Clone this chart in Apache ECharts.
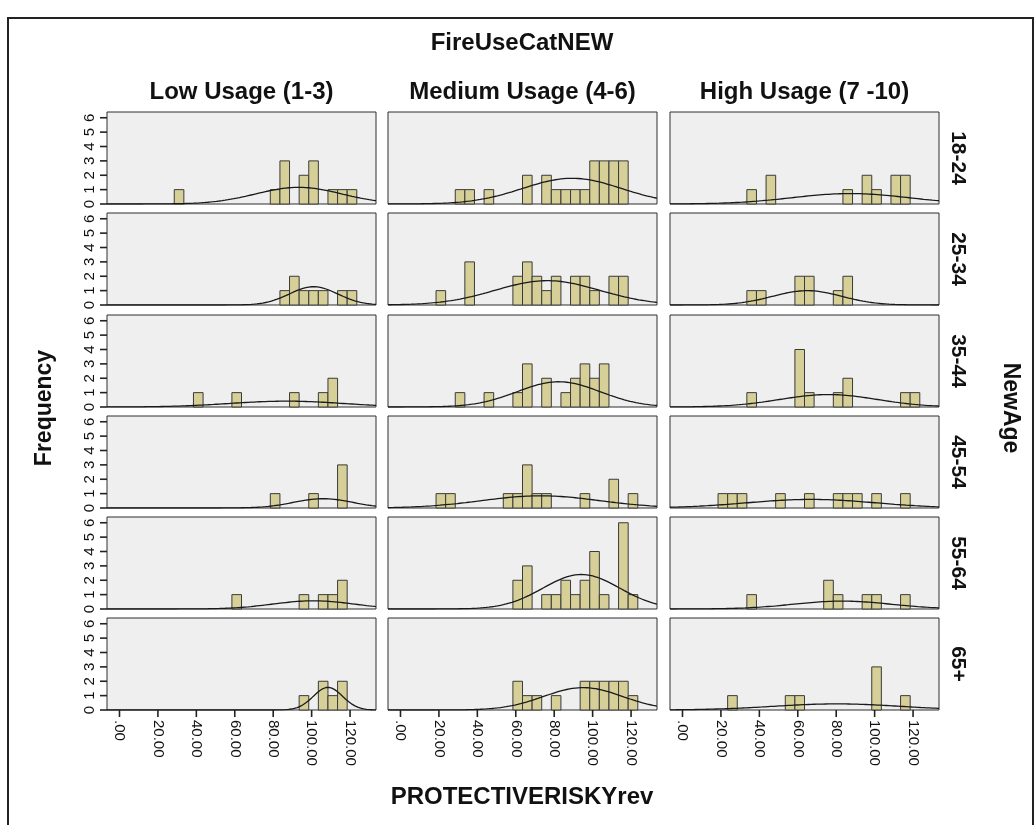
<!DOCTYPE html>
<html>
<head>
<meta charset="utf-8">
<script src="https://cdn.jsdelivr.net/npm/echarts@6/dist/echarts.min.js"></script>
<style>
  html, body { margin: 0; padding: 0; background: #ffffff; }
  #chart { width: 1035px; height: 825px; }
</style>
</head>
<body>
<div id="chart"></div>
<script>
// Panel headers and tick labels
const mainTitle = 'FireUseCatNEW';
const xTitle = 'PROTECTIVERISKYrev';
const yTitle = 'Frequency';
const rowTitle = 'NewAge';
const colHeaders = ['Low Usage (1-3)', 'Medium Usage (4-6)', 'High Usage (7 -10)'];
const rowLabels = ['18-24', '25-34', '35-44', '45-54', '55-64', '65+'];
const xTicks = [0, 20, 40, 60, 80, 100, 120];
const yTicks = [0, 1, 2, 3, 4, 5, 6];
const binWidth = 5;

// Histogram bins per panel: [bin centre, frequency]
const low18_24  = [[31,1],[81,1],[86,3],[96,2],[101,3],[111,1],[116,1],[121,1]];
const med18_24  = [[31,1],[36,1],[46,1],[66,2],[76,2],[81,1],[86,1],[91,1],[96,1],[101,3],[106,3],[111,3],[116,3]];
const high18_24 = [[36,1],[46,2],[86,1],[96,2],[101,1],[111,2],[116,2]];

const low25_34  = [[86,1],[91,2],[96,1],[101,1],[106,1],[116,1],[121,1]];
const med25_34  = [[21,1],[36,3],[61,2],[66,3],[71,2],[76,1],[81,2],[91,2],[96,2],[101,1],[111,2],[116,2]];
const high25_34 = [[36,1],[41,1],[61,2],[66,2],[81,1],[86,2]];

const low35_44  = [[41,1],[61,1],[91,1],[106,1],[111,2]];
const med35_44  = [[31,1],[46,1],[61,1],[66,3],[76,2],[86,1],[91,2],[96,3],[101,2],[106,3]];
const high35_44 = [[36,1],[61,4],[66,1],[81,1],[86,2],[116,1],[121,1]];

const low45_54  = [[81,1],[101,1],[116,3]];
const med45_54  = [[21,1],[26,1],[56,1],[61,1],[66,3],[71,1],[76,1],[96,1],[111,2],[121,1]];
const high45_54 = [[21,1],[26,1],[31,1],[51,1],[66,1],[81,1],[86,1],[91,1],[101,1],[116,1]];

const low55_64  = [[61,1],[96,1],[106,1],[111,1],[116,2]];
const med55_64  = [[61,2],[66,3],[76,1],[81,1],[86,2],[91,1],[96,2],[101,4],[106,1],[116,6],[121,1]];
const high55_64 = [[36,1],[76,2],[81,1],[96,1],[101,1],[116,1]];

const low65     = [[96,1],[106,2],[111,1],[116,2]];
const med65     = [[61,2],[66,1],[71,1],[81,1],[96,2],[101,2],[106,2],[111,2],[116,2],[121,1]];
const high65    = [[26,1],[56,1],[61,1],[101,3],[116,1]];

const panelRows = [
  [low18_24, med18_24, high18_24],
  [low25_34, med25_34, high25_34],
  [low35_44, med35_44, high35_44],
  [low45_54, med45_54, high45_54],
  [low55_64, med55_64, high55_64],
  [low65, med65, high65]
];

// Layout
const colLeft = [107, 388, 670];
const panelW = 269;
const rowTop = [112, 213, 315, 416, 517, 618];
const panelH = 92;
const X_MIN = -6.5, X_MAX = 133.5, Y_MAX = 6.4;
const TICK_LEN = 7;
const FONT = '"Liberation Sans", Arial, sans-serif';
const BAR_FILL = '#d6cf98';
const EDGE = '#2e2e2e';

// Normal curve fitted to a panel's binned data, scaled to frequency
function normalCurve(bins) {
  let n = 0, s = 0;
  bins.forEach(([v, c]) => { n += c; s += v * c; });
  const mean = s / n;
  let ss = 0;
  bins.forEach(([v, c]) => { ss += c * (v - mean) * (v - mean); });
  const sd = Math.sqrt(ss / (n - 1));
  const k = n * binWidth / (sd * Math.sqrt(2 * Math.PI));
  const pts = [];
  for (let x = X_MIN; x <= X_MAX + 1e-9; x += 0.5) {
    const z = (x - mean) / sd;
    pts.push([x, k * Math.exp(-0.5 * z * z)]);
  }
  return pts;
}

const grids = [], xAxes = [], yAxes = [], series = [];
panelRows.forEach((row, r) => {
  row.forEach((bins, c) => {
    const idx = grids.length;
    const bottomRow = r === panelRows.length - 1;
    const firstCol = c === 0;
    grids.push({
      left: colLeft[c], top: rowTop[r], width: panelW, height: panelH,
      show: true, backgroundColor: '#efefef', borderColor: EDGE, borderWidth: 1
    });
    xAxes.push({
      gridIndex: idx, type: 'value', min: X_MIN, max: X_MAX, position: 'bottom',
      splitLine: { show: false },
      axisLine: { show: false, onZero: false },
      axisTick: { show: false },
      axisLabel: {
        show: bottomRow, customValues: xTicks, rotate: -90, margin: 10,
        fontFamily: FONT, fontSize: 15, color: '#111',
        formatter: v => (v === 0 ? '.00' : v.toFixed(2))
      }
    });
    yAxes.push({
      gridIndex: idx, type: 'value', min: 0, max: Y_MAX, position: 'left',
      splitLine: { show: false },
      axisLine: { show: false, onZero: false },
      axisTick: { show: false },
      axisLabel: {
        show: firstCol, customValues: yTicks, rotate: 90, margin: 10,
        fontFamily: FONT, fontSize: 15, color: '#111'
      }
    });
    series.push({
      type: 'custom', xAxisIndex: idx, yAxisIndex: idx, data: bins, z: 2,
      encode: { x: 0, y: 1 },
      renderItem: (params, api) => {
        const v = api.value(0), h = api.value(1);
        const p0 = api.coord([v - binWidth / 2, h]);
        const p1 = api.coord([v + binWidth / 2, 0]);
        return {
          type: 'rect',
          shape: { x: p0[0], y: p0[1], width: p1[0] - p0[0], height: p1[1] - p0[1] },
          style: { fill: BAR_FILL, stroke: '#3a3a3a', lineWidth: 1 }
        };
      }
    });
    series.push({
      type: 'line', xAxisIndex: idx, yAxisIndex: idx, data: normalCurve(bins),
      showSymbol: false, silent: true, z: 3,
      lineStyle: { color: '#1a1a1a', width: 1.3 }
    });
  });
});

const bold = size => ({ fontFamily: FONT, fontWeight: 'bold', fontSize: size, fill: '#111', textAlign: 'center', textVerticalAlign: 'middle' });
const graphics = [
  { type: 'rect', shape: { x: 8, y: 18, width: 1025, height: 840 }, style: { fill: null, stroke: '#222', lineWidth: 2 }, silent: true },
  { type: 'text', x: 522, y: 43, style: Object.assign({ text: mainTitle }, bold(24)) },
  { type: 'text', x: 522, y: 797, style: Object.assign({ text: xTitle }, bold(24)) },
  { type: 'text', x: 45, y: 408, rotation: Math.PI / 2, style: Object.assign({ text: yTitle }, bold(23)) },
  { type: 'text', x: 1010, y: 408, rotation: -Math.PI / 2, style: Object.assign({ text: rowTitle }, bold(23)) }
];
colHeaders.forEach((t, c) => {
  graphics.push({ type: 'text', x: colLeft[c] + panelW / 2, y: 92, style: Object.assign({ text: t }, bold(24)) });
});
rowLabels.forEach((t, r) => {
  graphics.push({ type: 'text', x: 958, y: rowTop[r] + panelH / 2, rotation: -Math.PI / 2, style: Object.assign({ text: t }, bold(21)) });
});

const chart = echarts.init(document.getElementById('chart'), null, { renderer: 'canvas' });
chart.setOption({
  animation: false,
  backgroundColor: '#ffffff',
  grid: grids, xAxis: xAxes, yAxis: yAxes, series: series,
  graphic: graphics
});

// Outward tick marks, placed through each panel's own axis scales
const tickStyle = { stroke: '#222', lineWidth: 1.6 };
panelRows.forEach((row, r) => {
  const gi = r * 3;
  yTicks.forEach(t => {
    const p = chart.convertToPixel({ gridIndex: gi }, [X_MIN, t]);
    graphics.push({ type: 'line', silent: true, z: 50, shape: { x1: p[0] - TICK_LEN, y1: p[1], x2: p[0], y2: p[1] }, style: tickStyle });
  });
});
[0, 1, 2].forEach(c => {
  const gi = (panelRows.length - 1) * 3 + c;
  xTicks.forEach(t => {
    const p = chart.convertToPixel({ gridIndex: gi }, [t, 0]);
    graphics.push({ type: 'line', silent: true, z: 50, shape: { x1: p[0], y1: p[1], x2: p[0], y2: p[1] + TICK_LEN }, style: tickStyle });
  });
});
chart.setOption({ graphic: graphics });
</script>
</body>
</html>
